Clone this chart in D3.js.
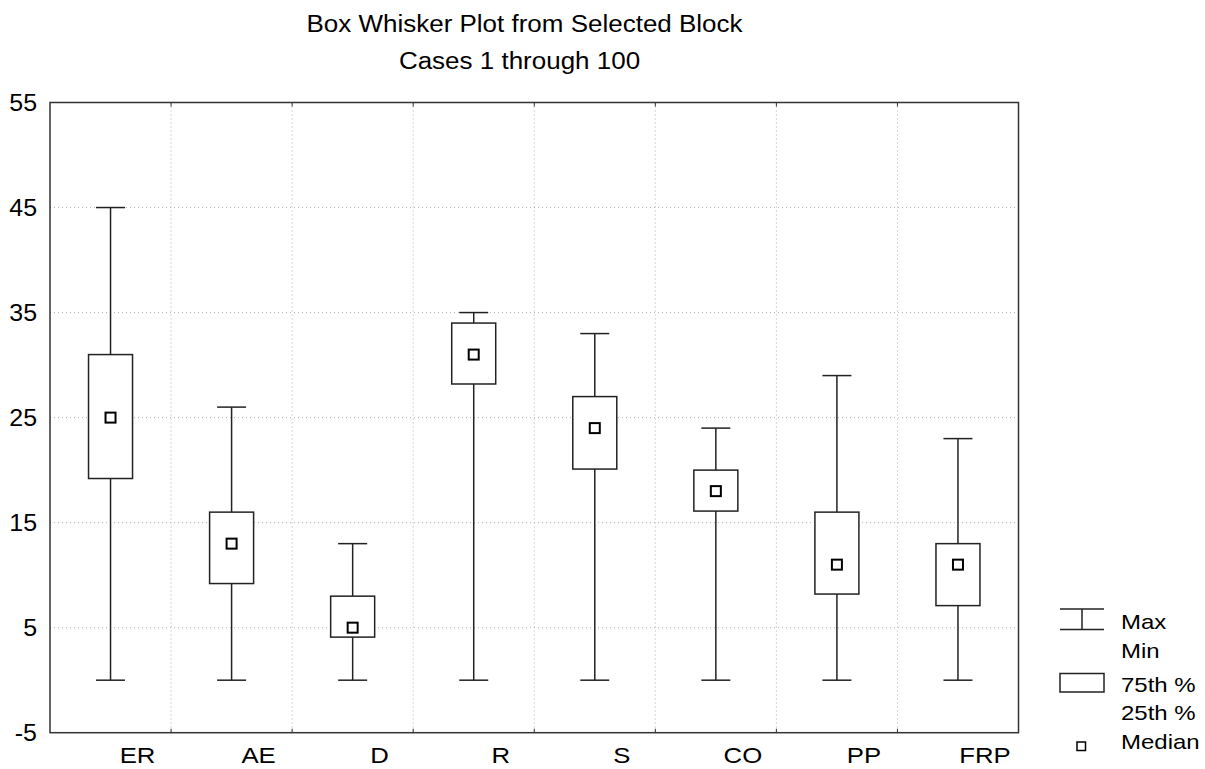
<!DOCTYPE html>
<html><head><meta charset="utf-8">
<script src="https://cdn.jsdelivr.net/npm/d3@7"></script>
<style>body{margin:0;background:#fff}svg{display:block;font-family:"Liberation Sans",Arial,sans-serif}</style>
</head><body>
<svg id="c" width="1205" height="769"></svg>
<script>
const categories = ["ER","AE","D","R","S","CO","PP","FRP"];
const minValues = [0,0,0,0,0,0,0,0];
const q1Values = [19.2,9.2,4.1,28.2,20.1,16.1,8.2,7.1];
const medianValues = [25,13,5,31,24,18,11,11];
const q3Values = [31,16,8,34,27,20,16,13];
const maxValues = [45,26,13,35,33,24,29,23];
const yTicks = [-5,5,15,25,35,45,55];
const titleLines = ["Box Whisker Plot from Selected Block","Cases 1 through 100"];
const legendItems = [["Max","Min"],["75th %","25th %"],["Median"]];

const svg = d3.select("#c");
const L=50, R=1018.5, T=102.5, B=732.7;
const x = d3.scaleBand().domain(categories).range([L,R]);
const y = d3.scaleLinear().domain([-5,55]).range([B,T]);

// grid
const g = svg.append("g");
g.selectAll(".hg").data(yTicks.filter(v=>v>-5&&v<55)).join("line")
  .attr("x1",L).attr("x2",R).attr("y1",d=>y(d)).attr("y2",d=>y(d))
  .attr("stroke","#b0b0b0").attr("stroke-width",1).attr("stroke-dasharray","1,3");
const bounds = categories.slice(1).map(c=>x(c));
g.selectAll(".vg").data(bounds).join("line")
  .attr("x1",d=>d).attr("x2",d=>d).attr("y1",T).attr("y2",B)
  .attr("stroke","#b0b0b0").attr("stroke-width",1).attr("stroke-dasharray","1,3");
g.selectAll(".tt").data(bounds).join("line")
  .attr("x1",d=>d).attr("x2",d=>d).attr("y1",T).attr("y2",T+4).attr("stroke","#333").attr("stroke-width",1);
g.selectAll(".bt").data(bounds).join("line")
  .attr("x1",d=>d).attr("x2",d=>d).attr("y1",B).attr("y2",B-4).attr("stroke","#333").attr("stroke-width",1);

// frame
svg.append("rect").attr("x",L).attr("y",T).attr("width",R-L).attr("height",B-T)
  .attr("fill","none").attr("stroke","#333").attr("stroke-width",1.5);

// y labels
svg.append("g").selectAll("text").data(yTicks).join("text")
  .attr("transform",d=>`translate(37,${y(d)+8.6}) scale(1.04,1)`).attr("text-anchor","end")
  .attr("font-size",24).attr("fill","#000").text(d=>d);
// x labels
svg.append("g").selectAll("text").data(categories).join("text")
  .attr("transform",d=>`translate(${x(d)+x.bandwidth()/2+27},763) scale(1.12,1)`).attr("text-anchor","middle")
  .attr("font-size",23).attr("fill","#000").text(d=>d);

// title
const titleX=[524.5,519.5], titleY=[31.5,68.5];
svg.append("g").selectAll("text").data(titleLines).join("text")
  .attr("transform",(d,i)=>`translate(${titleX[i]},${titleY[i]}) scale(1.13,1)`).attr("text-anchor","middle")
  .attr("font-size",23).attr("fill","#000").text(d=>d);

// boxes
const data = categories.map((c,i)=>({c,min:minValues[i],q1:q1Values[i],med:medianValues[i],q3:q3Values[i],max:maxValues[i]}));
const bw=44, cw=29, ms=10;
const bg = svg.append("g").selectAll("g").data(data).join("g")
  .attr("transform",d=>`translate(${x(d.c)+x.bandwidth()/2},0)`);
const stroke="#222";
bg.append("line").attr("x1",0).attr("x2",0).attr("y1",d=>y(d.max)).attr("y2",d=>y(d.q3)).attr("stroke",stroke).attr("stroke-width",1.5);
bg.append("line").attr("x1",0).attr("x2",0).attr("y1",d=>y(d.q1)).attr("y2",d=>y(d.min)).attr("stroke",stroke).attr("stroke-width",1.5);
bg.append("line").attr("x1",-cw/2).attr("x2",cw/2).attr("y1",d=>y(d.max)).attr("y2",d=>y(d.max)).attr("stroke",stroke).attr("stroke-width",1.5);
bg.append("line").attr("x1",-cw/2).attr("x2",cw/2).attr("y1",d=>y(d.min)).attr("y2",d=>y(d.min)).attr("stroke",stroke).attr("stroke-width",1.5);
bg.append("rect").attr("x",-bw/2).attr("width",bw).attr("y",d=>y(d.q3)).attr("height",d=>y(d.q1)-y(d.q3))
  .attr("fill","#fff").attr("stroke",stroke).attr("stroke-width",1.5);
bg.append("rect").attr("x",-ms/2).attr("width",ms).attr("y",d=>y(d.med)-ms/2).attr("height",ms)
  .attr("fill","#fff").attr("stroke","#000").attr("stroke-width",2);

// legend
const lg = svg.append("g");
const lx=1060, lw=44;
lg.append("line").attr("x1",lx).attr("x2",lx+lw).attr("y1",609).attr("y2",609).attr("stroke",stroke).attr("stroke-width",1.5);
lg.append("line").attr("x1",lx).attr("x2",lx+lw).attr("y1",629.5).attr("y2",629.5).attr("stroke",stroke).attr("stroke-width",1.5);
lg.append("line").attr("x1",lx+lw/2).attr("x2",lx+lw/2).attr("y1",609).attr("y2",629.5).attr("stroke",stroke).attr("stroke-width",1.5);
lg.append("rect").attr("x",lx).attr("y",673.5).attr("width",lw).attr("height",18.5).attr("fill","#fff").attr("stroke",stroke).attr("stroke-width",1.5);
lg.append("rect").attr("x",1077).attr("y",742).attr("width",8.5).attr("height",8.5).attr("fill","#fff").attr("stroke","#000").attr("stroke-width",1.5);
const legTexts = [[legendItems[0][0],629.3],[legendItems[0][1],657.5],[legendItems[1][0],692],[legendItems[1][1],720],[legendItems[2][0],748.5]];
lg.selectAll("text").data(legTexts).join("text")
  .attr("transform",d=>`translate(1121,${d[1]}) scale(1.2,1)`)
  .attr("font-size",20).attr("fill","#000").text(d=>d[0]);
</script>
</body></html>
